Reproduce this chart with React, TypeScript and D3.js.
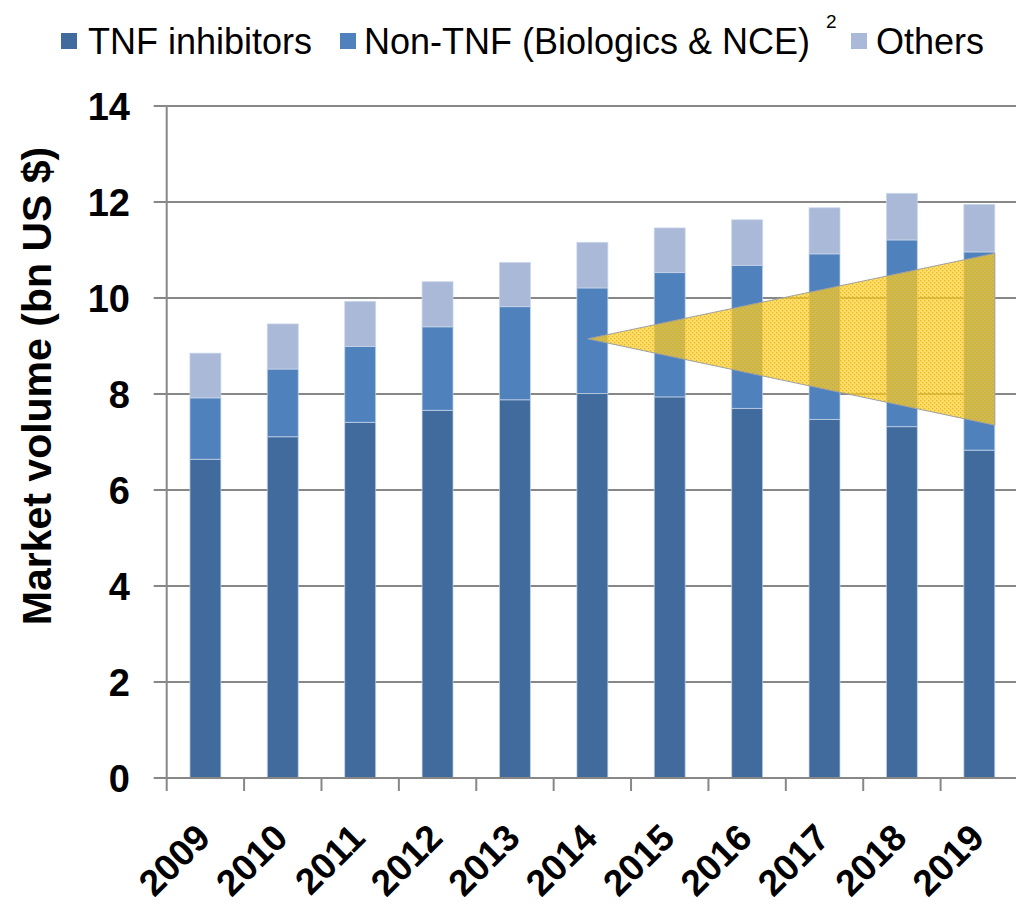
import React from "react";
import * as d3 from "d3";

const years = ["2009", "2010", "2011", "2012", "2013", "2014", "2015", "2016", "2017", "2018", "2019"];
// segment values (bn US $)
const tnfInhibitors = [6.64, 7.11, 7.41, 7.66, 7.88, 8.01, 7.94, 7.70, 7.47, 7.32, 6.83];
const nonTnf = [1.28, 1.41, 1.58, 1.74, 1.94, 2.20, 2.59, 2.98, 3.45, 3.89, 4.13];
const others = [0.93, 0.94, 0.94, 0.94, 0.92, 0.95, 0.93, 0.95, 0.96, 0.97, 0.99];
const seriesNames = ["TNF inhibitors", "Non-TNF (Biologics & NCE)", "Others"];
const seriesColors = ["#416B9D", "#4F81BD", "#AAB9D8"];
const yTicks = [0, 2, 4, 6, 8, 10, 12, 14];
// annotation wedge (data units)
const wedgeApex = { year: "2014", value: 9.15 };
const wedgeEnd = { year: "2019", top: 10.93, bottom: 7.35 };

const W = 1016;
const H = 908;
const FONT = "'Liberation Sans', Arial, sans-serif";

export default function App() {
  const x = d3.scaleBand<string>().domain(years).range([166.7, 1018]).paddingInner(0.6).paddingOuter(0.3);
  const step = x.step();
  const y = d3.scaleLinear().domain([0, 14]).range([778, 106]);

  const rows = years.map((yr, i) => ({ year: yr, a: tnfInhibitors[i], b: nonTnf[i], c: others[i] }));
  const stack = d3.stack<any>().keys(["a", "b", "c"]);
  const layers = stack(rows);

  const bw = x.bandwidth();
  const apexX = (x(wedgeApex.year) as number) + bw * 0.35;
  const endX = (x(wedgeEnd.year) as number) + bw;
  const wedge = [
    [apexX, y(wedgeApex.value)],
    [endX, y(wedgeEnd.top)],
    [endX, y(wedgeEnd.bottom)],
  ];
  const wedgePath = d3.line()(wedge as [number, number][]) + "Z";

  const axisLeft = x.range()[0];
  const boundaries = d3.range(years.length + 1).map((i) => axisLeft + i * step);

  const legendItems = [
    { sx: 61, tx: 88 },
    { sx: 340, tx: 364 },
    { sx: 851, tx: 876 },
  ];

  return (
    <svg
      width={W}
      height={H}
      style={{ position: "absolute", left: 0, top: 0, display: "block", background: "#fff" }}
      fontFamily={FONT}
    >
      <defs>
        <pattern id="dots" width="4" height="4" patternUnits="userSpaceOnUse">
          <rect x="0" y="0" width="1.3" height="1.3" fill="#D9A800" opacity="0.7" />
          <rect x="2" y="2" width="1.3" height="1.3" fill="#D9A800" opacity="0.7" />
        </pattern>
      </defs>

      {/* legend */}
      {seriesNames.map((name, i) => (
        <g key={name}>
          <rect x={legendItems[i].sx} y={33} width={16} height={16} fill={seriesColors[i]} />
          <text x={legendItems[i].tx} y={54} fontSize={36} fill="#000">
            {name}
          </text>
        </g>
      ))}
      <text x={826} y={28} fontSize={19} fill="#000">
        2
      </text>

      {/* gridlines */}
      {yTicks.slice(1).map((t) => (
        <line key={t} x1={axisLeft} x2={W} y1={y(t)} y2={y(t)} stroke="#878787" strokeWidth={2} />
      ))}

      {/* bars */}
      {layers.map((layer, li) => (
        <g key={li}>
          {layer.map((d: any, i: number) => (
            <rect
              key={i}
              x={x(years[i])}
              y={y(d[1])}
              width={bw}
              height={y(d[0]) - y(d[1])}
              fill={seriesColors[li]}
              stroke="#C9D6EA"
              strokeOpacity={0.7}
              strokeWidth={1}
            />
          ))}
        </g>
      ))}

      {/* wedge annotation */}
      <path d={wedgePath} fill="#FFD02E" fillOpacity={0.72} stroke="none" />
      <path d={wedgePath} fill="url(#dots)" stroke="#A0A0A0" strokeWidth={1} />

      {/* axes */}
      <line x1={axisLeft} x2={W} y1={y(0)} y2={y(0)} stroke="#878787" strokeWidth={2} />
      <line x1={axisLeft} x2={axisLeft} y1={y(14)} y2={y(0)} stroke="#878787" strokeWidth={2} />
      {yTicks.map((t) => (
        <g key={t}>
          <line x1={axisLeft - 13} x2={axisLeft} y1={y(t)} y2={y(t)} stroke="#878787" strokeWidth={2} />
          <text x={130} y={y(t)} dy="0.36em" textAnchor="end" fontSize={38} fontWeight="bold" fill="#000">
            {t}
          </text>
        </g>
      ))}
      {boundaries.map((bx, i) => (
        <line key={i} x1={bx} x2={bx} y1={y(0)} y2={y(0) + 13} stroke="#878787" strokeWidth={2} />
      ))}
      {years.map((yr) => {
        const cx = (x(yr) as number) + bw / 2 + 7;
        return (
          <text
            key={yr}
            transform={`translate(${cx},840) rotate(-45)`}
            textAnchor="end"
            fontSize={37}
            fontWeight="bold"
            fill="#000"
          >
            {yr}
          </text>
        );
      })}

      {/* y axis title */}
      <text
        transform={`translate(51,386) rotate(-90)`}
        textAnchor="middle"
        fontSize={41}
        fontWeight="bold"
        fill="#000"
      >
        Market volume (bn US $)
      </text>
    </svg>
  );
}
